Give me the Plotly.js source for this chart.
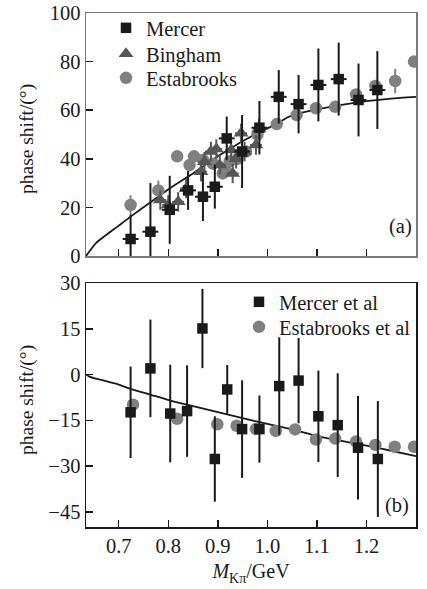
<!DOCTYPE html>
<html>
<head>
<meta charset="utf-8">
<script src="https://cdn.plot.ly/plotly-3.0.1.min.js"></script>
<style>html,body{margin:0;padding:0;background:#fff;}#plot{width:427px;height:589px;}</style>
</head>
<body>
<div id="plot"></div>
<script>
// ---- Panel (a): P-wave phase shift ----
const aMercerX   = [0.724, 0.764, 0.803, 0.840, 0.870, 0.894, 0.918, 0.949, 0.984, 1.023, 1.063, 1.103, 1.144, 1.184, 1.222];
const aMercerY   = [7, 10, 19, 27, 24.4, 28.5, 48.4, 43, 52.8, 65.5, 62.5, 70.4, 72.8, 64.2, 68.3];
const aMercerErr = [10, 20, 14, 8, 10, 9, 9, 15, 11, 11, 12, 15, 15, 15, 16];
const aMercerXErr = [0.016, 0.016, 0.016, 0.016, 0.016, 0.016, 0.016, 0.016, 0.016, 0.016, 0.016, 0.016, 0.016, 0.016, 0.016];

const aBinghamX   = [0.784, 0.800, 0.820, 0.836, 0.866, 0.873, 0.886, 0.897, 0.904, 0.927, 0.930, 0.937, 0.947, 0.954, 0.977, 0.983];
const aBinghamY   = [23, 21, 22.3, 27.8, 34.7, 38.8, 43, 44, 37.5, 43.6, 34, 40, 50.5, 43, 45.7, 52.5];
const aBinghamErr = [4, 4, 4, 4, 4, 4, 4, 4, 4, 4, 4, 4, 4, 4, 4, 4];
const aBinghamXErr = [0.012, 0.012, 0.012, 0.012, 0.012, 0.012, 0.012, 0.012, 0.012, 0.012, 0.012, 0.012, 0.012, 0.012, 0.012, 0.012];

const aEstX   = [0.724, 0.780, 0.818, 0.843, 0.852, 0.870, 0.890, 0.910, 0.914, 0.924, 0.940, 0.957, 0.980, 1.019, 1.059, 1.098, 1.137, 1.179, 1.218, 1.258, 1.296];
const aEstY   = [21, 27, 41, 37.4, 41, 39.5, 38, 34, 36, 39, 40, 43, 50, 54.3, 58, 60.8, 61.4, 66.5, 70, 72, 80];
const aEstErr = [4, 4, 2, 2, 2, 2, 2, 2, 2, 2, 2, 2, 2, 2, 2, 2, 2, 2, 2, 5, 2];

const aCurveX = [0.634, 0.645, 0.655, 0.70, 0.724, 0.76, 0.803, 0.85, 0.869, 0.90, 0.937, 0.97, 1.0, 1.02, 1.04, 1.06, 1.10, 1.15, 1.20, 1.25, 1.30];
const aCurveY = [0, 3, 5.5, 12.5, 16.2, 21.5, 27.8, 34, 36.7, 41, 45.7, 49.5, 52.5, 54.5, 57, 58.5, 60.3, 62.2, 63.7, 64.8, 65.5];

// ---- Panel (b): S-wave phase shift ----
const bMercerX   = [0.724, 0.764, 0.804, 0.838, 0.869, 0.894, 0.919, 0.949, 0.984, 1.024, 1.063, 1.103, 1.142, 1.183, 1.223];
const bMercerY   = [-12.4, 2, -12.8, -12, 15.1, -27.7, -4.9, -17.9, -17.9, -3.8, -2, -13.7, -16.6, -24, -27.7];
const bMercerErr = [15, 16, 16, 15, 13, 14, 8, 16, 11, 16, 14, 15, 17, 17, 19];

const bEstX = [0.729, 0.818, 0.899, 0.938, 0.977, 1.017, 1.056, 1.098, 1.137, 1.179, 1.218, 1.257, 1.296];
const bEstY = [-9.9, -14.5, -16.3, -16.8, -17.9, -18.5, -18.0, -21.3, -21, -22, -23.1, -23.7, -23.7];

const bCurveX = [0.634, 0.64, 0.65, 0.67, 0.70, 0.724, 0.76, 0.803, 0.85, 0.90, 0.95, 1.0, 1.05, 1.10, 1.15, 1.20, 1.25, 1.30];
const bCurveY = [0, -0.6, -1.2, -2.0, -3.3, -4.7, -6.4, -8.5, -10.4, -12.3, -14.3, -16.2, -18, -20.2, -21.8, -23.3, -25, -26.8];

const xTicks = [0.7, 0.8, 0.9, 1.0, 1.1, 1.2, 1.3];
const xTickText = ['0.7', '0.8', '0.9', '1.0', '1.1', '1.2', '1.3'];
const aYTicks = [0, 20, 40, 60, 80, 100];
const bYTicks = [-45, -30, -15, 0, 15, 30];

const cBlack = '#1a1a1a', cTri = '#565656', cCirc = '#808080';
const serif = 'Liberation Serif, Times New Roman, serif';

const traces = [
  {x: aCurveX, y: aCurveY, xaxis: 'x', yaxis: 'y', mode: 'lines', line: {color: cBlack, width: 1.8, shape: 'spline', smoothing: 0.6}, showlegend: false, hoverinfo: 'skip'},
  {x: aEstX, y: aEstY, xaxis: 'x', yaxis: 'y', mode: 'markers', marker: {symbol: 'circle', size: 12.5, color: cCirc},
   error_y: {type: 'data', array: aEstErr, color: cCirc, thickness: 2, width: 0}, showlegend: false},
  {x: aBinghamX, y: aBinghamY, xaxis: 'x', yaxis: 'y', mode: 'markers', marker: {symbol: 'triangle-up', size: 13, color: cTri},
   error_y: {type: 'data', array: aBinghamErr, color: cTri, thickness: 2, width: 0},
   error_x: {type: 'data', array: aBinghamXErr, color: cTri, thickness: 2, width: 0}, showlegend: false},
  {x: aMercerX, y: aMercerY, xaxis: 'x', yaxis: 'y', mode: 'markers', marker: {symbol: 'square', size: 10.5, color: cBlack},
   error_y: {type: 'data', array: aMercerErr, color: cBlack, thickness: 2, width: 0},
   error_x: {type: 'data', array: aMercerXErr, color: cBlack, thickness: 2, width: 0}, showlegend: false},
  // legend entries (a)
  {x: [null], y: [null], xaxis: 'x', yaxis: 'y', mode: 'markers', name: 'Mercer', marker: {symbol: 'square', size: 10.5, color: cBlack}, legend: 'legend'},
  {x: [null], y: [null], xaxis: 'x', yaxis: 'y', mode: 'markers', name: 'Bingham', marker: {symbol: 'triangle-up', size: 13, color: cTri}, legend: 'legend2'},
  {x: [null], y: [null], xaxis: 'x', yaxis: 'y', mode: 'markers', name: 'Estabrooks', marker: {symbol: 'circle', size: 12.5, color: cCirc}, legend: 'legend3'},

  {x: bCurveX, y: bCurveY, xaxis: 'x2', yaxis: 'y2', mode: 'lines', line: {color: cBlack, width: 1.8, shape: 'spline', smoothing: 0.6}, showlegend: false, hoverinfo: 'skip'},
  {x: bEstX, y: bEstY, xaxis: 'x2', yaxis: 'y2', mode: 'markers', marker: {symbol: 'circle', size: 12.5, color: cCirc}, showlegend: false},
  {x: bMercerX, y: bMercerY, xaxis: 'x2', yaxis: 'y2', mode: 'markers', marker: {symbol: 'square', size: 10.5, color: cBlack},
   error_y: {type: 'data', array: bMercerErr, color: cBlack, thickness: 2, width: 0}, showlegend: false},
  {x: [null], y: [null], xaxis: 'x2', yaxis: 'y2', mode: 'markers', name: 'Mercer et al', marker: {symbol: 'square', size: 10.5, color: cBlack}, legend: 'legend4'},
  {x: [null], y: [null], xaxis: 'x2', yaxis: 'y2', mode: 'markers', name: 'Estabrooks et al', marker: {symbol: 'circle', size: 12.5, color: cCirc}, legend: 'legend5'}
];

const xDom = [86/427, 416/427];
const commonX = {range: [0.634, 1.3], tickvals: xTicks, ticktext: xTickText, ticks: 'inside', ticklen: 7, tickwidth: 1.5,
  showgrid: false, zeroline: false, showline: true, mirror: true, linewidth: 1.5};

function leg(px, py) {
  return {x: px/427, y: 1 - py/589, xanchor: 'left', yanchor: 'middle', bgcolor: 'rgba(0,0,0,0)',
          font: {size: 20.5, family: serif, color: '#1a1a1a'}, itemwidth: 30, borderwidth: 0};
}

const layout = {
  width: 427, height: 589,
  margin: {l: 0, r: 0, t: 0, b: 0},
  paper_bgcolor: '#fff', plot_bgcolor: '#fff',
  font: {family: serif, size: 20, color: '#1a1a1a'},
  showlegend: true,
  xaxis: Object.assign({}, commonX, {domain: xDom, anchor: 'y', showticklabels: false, linecolor: '#7a7a7a', tickcolor: '#1a1a1a'}),
  yaxis: {domain: [333/589, 576/589], anchor: 'x', range: [0, 100], tickvals: aYTicks, ticks: 'inside', ticklen: 7, tickwidth: 1.5,
    showgrid: false, zeroline: false, showline: true, mirror: true, linewidth: 1.5, linecolor: '#7a7a7a', tickcolor: '#1a1a1a',
    ticksuffix: '\u2002', tickfont: {size: 20.5}},
  xaxis2: Object.assign({}, commonX, {domain: xDom, anchor: 'y2', linecolor: '#1a1a1a', tickcolor: '#1a1a1a',
    tickfont: {size: 20.5},
    title: {text: '<i>M</i><sub>Kπ</sub>/GeV', font: {size: 20}, standoff: 8}}),
  yaxis2: {domain: [62/589, 306/589], anchor: 'x2', range: [-50, 30], tickvals: bYTicks, ticks: 'inside', ticklen: 7, tickwidth: 1.5,
    showgrid: false, zeroline: false, showline: true, mirror: true, linewidth: 1.5, linecolor: '#1a1a1a', tickcolor: '#1a1a1a',
    ticksuffix: '\u2002', tickfont: {size: 20.5}},
  legend: leg(106, 28),
  legend2: leg(106, 54),
  legend3: leg(106, 78),
  legend4: leg(239, 302),
  legend5: leg(239, 327),
  annotations: [
    {text: 'phase shift/(°)', x: 27/427, y: 1 - 139/589, xref: 'paper', yref: 'paper', xanchor: 'center', yanchor: 'middle', textangle: -90, showarrow: false, font: {size: 19.5, family: serif}},
    {text: 'phase shift/(°)', x: 27/427, y: 1 - 400/589, xref: 'paper', yref: 'paper', xanchor: 'center', yanchor: 'middle', textangle: -90, showarrow: false, font: {size: 19.5, family: serif}},
    {text: '(a)', x: 400/427, y: 1 - 227/589, xref: 'paper', yref: 'paper', xanchor: 'center', yanchor: 'middle', showarrow: false, font: {size: 20.5, family: serif}},
    {text: '(b)', x: 397/427, y: 1 - 505/589, xref: 'paper', yref: 'paper', xanchor: 'center', yanchor: 'middle', showarrow: false, font: {size: 20.5, family: serif}}
  ]
};

Plotly.newPlot('plot', traces, layout, {displayModeBar: false, staticPlot: true});
</script>
</body>
</html>
